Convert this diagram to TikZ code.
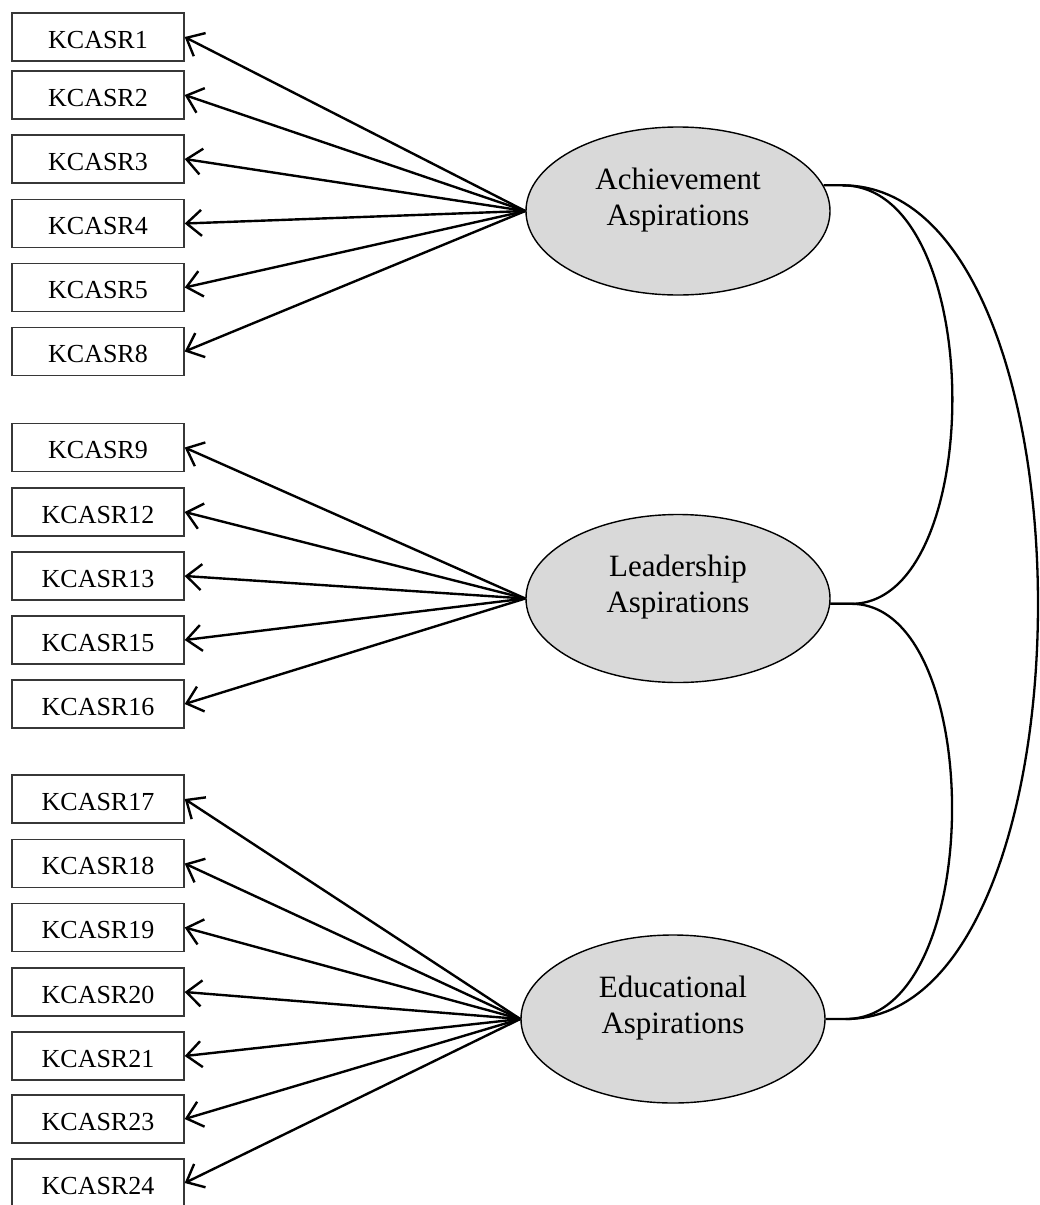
\documentclass[tikz,border=0pt]{standalone}
\usepackage{fontspec}
\setmainfont{Liberation Serif}
\usetikzlibrary{arrows.meta,shapes.geometric,calc}
\definecolor{latfill}{RGB}{217,217,217}
\definecolor{boxline}{RGB}{55,55,55}
\begin{document}
\begin{tikzpicture}[x=1pt,y=-1pt,
  ind/.style={draw=boxline, line width=1.4pt, minimum width=172pt, minimum height=48pt, inner sep=0pt, text height=22pt, text depth=0pt, font=\fontsize{26}{30}\selectfont},
  lat/.style={ellipse, draw, line width=1.4pt, fill=latfill, minimum width=304pt, minimum height=168pt, inner sep=0pt},
  lattext/.style={align=center, inner sep=0pt, font=\fontsize{31}{36}\selectfont},
  load/.style={-{Straight Barb[length=15pt,width=26pt]}, line width=2.4pt},
  cov/.style={line width=2.3pt}]
\useasboundingbox (0,0) rectangle (1039,1205);

% latent variables
\node[lat] (ach) at (678,211) {};
\node[lat] (lead) at (678,598.5) {};
\node[lat] (edu) at (673,1019) {};
\node[lattext] (achT) at ($(ach.center)+(0,-11)$) {Achievement\\Aspirations};
\node[lattext] (leadT) at ($(lead.center)+(0,-11)$) {Leadership\\Aspirations};
\node[lattext] (eduT) at ($(edu.center)+(0,-11)$) {Educational\\Aspirations};

% indicators
\foreach \n/\y in {1/37,2/95,3/159,4/223.5,5/287.5,8/351.5,
                   9/447.5,12/512,13/576,15/640,16/704,
                   17/799,18/863.5,19/927.5,20/992,21/1056,23/1119,24/1183}
  \node[ind] (k\n) at (98,\y) {KCASR\n};

% loadings
\foreach \n in {1,2,3,4,5,8} \draw[load] (ach.west) -- (k\n.east);
\foreach \n in {9,12,13,15,16} \draw[load] (lead.west) -- (k\n.east);
\foreach \n in {17,18,19,20,21,23,24} \draw[load] (edu.west) -- (k\n.east);

% covariances
\coordinate (achR) at ($(ach.10)+(19,0)$);
\coordinate (leadR) at ($(lead.-2)+(21,0)$);
\coordinate (eduR) at ($(edu.east)+(20,0)$);
\draw[cov] (ach.10) -- (achR) .. controls +(145,0) and +(136,0) .. (leadR) -- (lead.-2);
\draw[cov] (lead.-2) -- (leadR) .. controls +(135,0) and +(141,0) .. (eduR) -- (edu.east);
\draw[cov] (achR) .. controls +(260,0) and +(257,0) .. (eduR);
\end{tikzpicture}
\end{document}
